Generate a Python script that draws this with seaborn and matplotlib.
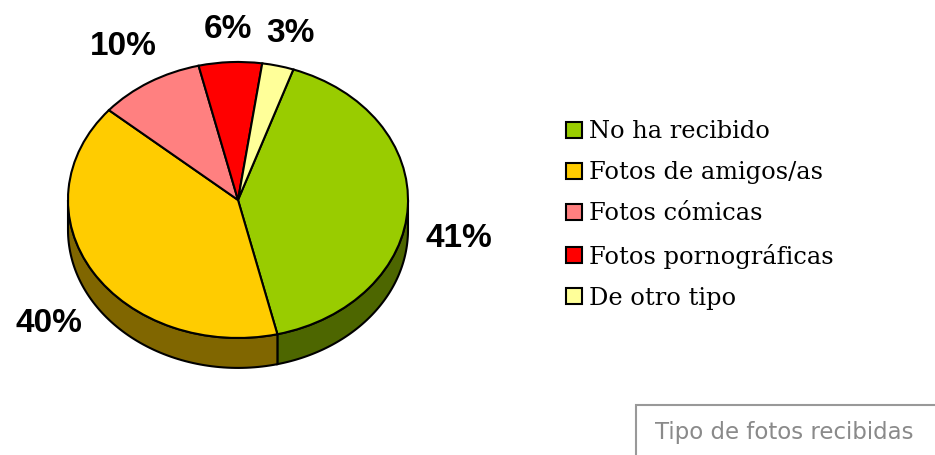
import numpy as np
import matplotlib
matplotlib.use('Agg')
import matplotlib.pyplot as plt
from matplotlib.patches import Polygon, Patch, Rectangle
import seaborn as sns

categories = ['No ha recibido', 'Fotos de amigos/as', 'Fotos cómicas',
              'Fotos pornográficas', 'De otro tipo']
values = [41, 40, 10, 6, 3]
colors = ['#99CC00', '#FFCC00', '#FF8080', '#FF0000', '#FFFF99']
title = 'Tipo de fotos recibidas'

sns.set_style('white')
plt.rcParams['text.color'] = 'black'

fig = plt.figure(figsize=(9.35, 4.55), dpi=100)
ax = fig.add_axes([0, 0, 1, 1])

depth = 0.217

wedges, texts, autotexts = ax.pie(values, colors=colors, startangle=71, counterclock=False,
                                  autopct='%1.0f%%', pctdistance=1.3, radius=1,
                                  wedgeprops={'edgecolor': 'black', 'linewidth': 1.5, 'zorder': 3},
                                  textprops={'fontsize': 24, 'fontweight': 'bold',
                                             'family': 'Liberation Sans', 'color': 'black'},
                                  frame=True)
ax.set_xlim(-1.4, 4.1)
ax.set_ylim(-1.848, 1.449)
ax.set_aspect('auto')
ax.axis('off')

# side walls of the 3d pie, front half only
for w, c in zip(wedges, colors):
    a, b = sorted([w.theta1, w.theta2])
    side = tuple(np.array(matplotlib.colors.to_rgb(c)) * 0.5)
    for shift in (-360, 0, 360):
        lo = max(a + shift, 180)
        hi = min(b + shift, 360)
        if hi <= lo:
            continue
        t = np.radians(np.linspace(lo, hi, 80))
        top = np.column_stack([np.cos(t), np.sin(t)])
        bot = np.column_stack([np.cos(t[::-1]), np.sin(t[::-1]) - depth])
        ax.add_patch(Polygon(np.vstack([top, bot]), closed=True, facecolor=side,
                             edgecolor='black', linewidth=1.5, zorder=2))

for t in autotexts:
    x, y = t.get_position()
    if y < 0:
        t.set_position((x, y - depth))
    elif y > 1.2:
        t.set_position((x, y - 0.06))

handles = [Patch(facecolor=c, edgecolor='black', linewidth=1.5) for c in colors]
fig.legend(handles, categories, loc='center left', bbox_to_anchor=(566 / 935, 1 - 215 / 455),
           frameon=False, prop={'family': 'DejaVu Serif', 'size': 17.4},
           handlelength=0.67, handleheight=0.67, handletextpad=0.3, labelspacing=0.75,
           borderpad=0, borderaxespad=0, labelcolor='black')

fig.patches.append(Rectangle((636 / 935, -0.01), 0.4, 50 / 455 + 0.01, transform=fig.transFigure,
                             facecolor='white', edgecolor='#999999', linewidth=1.5))
fig.text(655 / 935, 1 - 433 / 455, title, color='#8a8a8a', fontsize=16.5,
         family='DejaVu Sans', va='center', ha='left')

fig.savefig('out.png', dpi=100)
